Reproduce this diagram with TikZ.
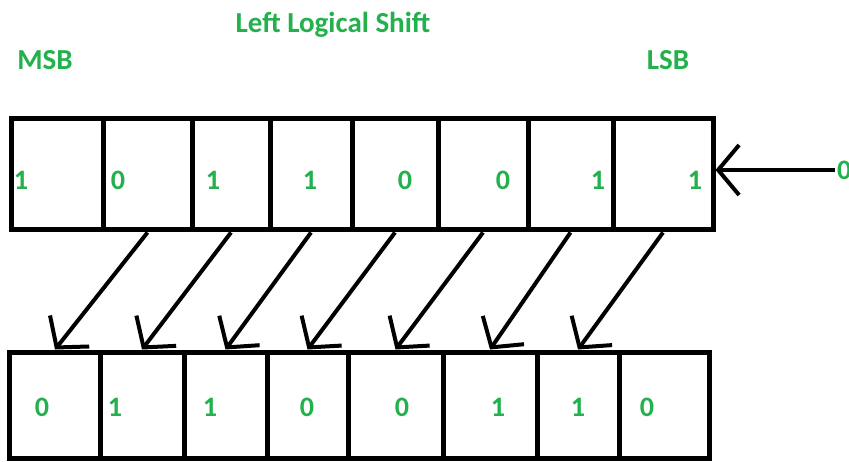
\documentclass[tikz,border=0pt]{standalone}
\usepackage{fontspec}
\setmainfont{Carlito}
\usetikzlibrary{arrows.meta}
\definecolor{bitgreen}{HTML}{22B14C}
\tikzstyle{cell} = [draw=black, line width=0.1cm, inner sep=0pt, minimum height=2.24cm]
\tikzstyle{bit} = [text=bitgreen, font=\fontsize{16}{18}\selectfont\bfseries, inner sep=1pt]
\tikzstyle{tag} = [text=bitgreen, font=\fontsize{16.5}{18}\selectfont\bfseries, inner sep=1pt]
\tikzstyle{shiftarrow} = [line width=0.08cm, -{Straight Barb[length=0.42cm, width=1cm]}, color=black]

\begin{document}
\begin{tikzpicture}[x=0.02cm, y=-0.02cm]
    \fill[white] (0,0) rectangle (849,462);
    \useasboundingbox (0,0) rectangle (849,462);

    % register before the shift
    \foreach \l/\r [count=\i, evaluate=\l as \w using (\r-\l)*0.02] in
        {12/103,103/192,192/270,270/352,352/438,438/528,528/613,613/713}
        \node[cell, minimum width=\w cm] (t\i) at ({(\l+\r)/2},174) {};
    % register after the shift
    \foreach \l/\r [count=\i, evaluate=\l as \w using (\r-\l)*0.02] in
        {10/100,100/184,184/267,267/348,348/443,443/537,537/619,619/709}
        \node[cell, minimum width=\w cm, minimum height=2.14cm] (b\i) at ({(\l+\r)/2},405.5) {};

    \foreach \x/\v [count=\i] in {21/1,118/0,213/1,310/1,405/0,503/0,598/1,695/1}
        \node[bit] (tv\i) at (\x,180) {\v};
    \foreach \x/\v [count=\i] in {42/0,115/1,210/1,307/0,402/0,498/1,578/1,647/0}
        \node[bit] (bv\i) at (\x,407) {\v};

    \node[tag] (title) at (333,25) {Left Logical Shift};
    \node[tag] (msb) at (45,60) {MSB};
    \node[tag] (lsb) at (668,60) {LSB};

    % every bit moves one place to the left
    \foreach \i [evaluate=\i as \j using int(\i+1)] in {1,...,7}
        \draw[shiftarrow] (t\j.south) -- (b\i.north);

    % a zero comes in at the right
    \node[bit, anchor=west] (inbit) at (835,170) {0};
    \draw[shiftarrow] (inbit.west) -- (inbit.west -| t8.east);
\end{tikzpicture}
\end{document}
